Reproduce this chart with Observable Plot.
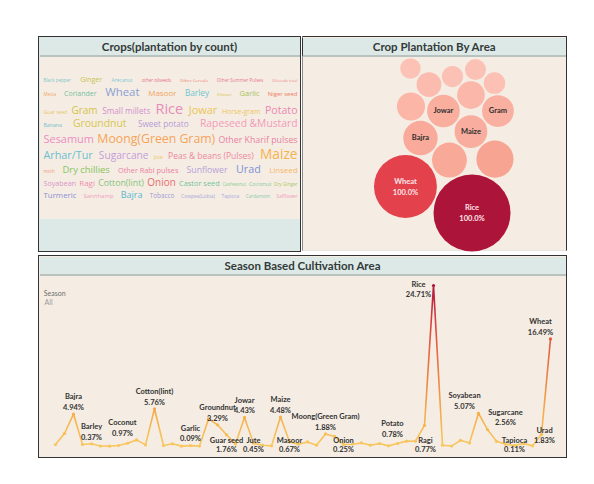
<!DOCTYPE html>
<html>
<head>
<meta charset="utf-8">
<script src="https://cdn.jsdelivr.net/npm/d3@7"></script>
<script src="https://cdn.jsdelivr.net/npm/@observablehq/plot@0.6"></script>
<style>
html,body{margin:0;padding:0;background:#fff;}
#dash{position:relative;width:594px;height:484px;overflow:hidden;font-family:Lato,"Open Sans",sans-serif;}
.box{position:absolute;box-sizing:border-box;}
.hdr{position:absolute;box-sizing:border-box;background:#dde9e6;border-bottom:2px solid #b9c2bf;display:flex;align-items:center;justify-content:center;font:700 11.5px Lato,sans-serif;color:#333a3a;}
.note{position:absolute;font:7px Lato,sans-serif;}
svg{overflow:visible;}
</style>
</head>
<body>
<div id="dash">
  <!-- panel 1 -->
  <div class="box" style="left:38px;top:36px;width:263px;height:216px;border:1.5px solid #333;background:#dde9e6;"></div>
  <div class="box" style="left:39.5px;top:57px;width:260px;height:162px;background:#f5ede3;"></div>
  <div class="hdr" style="left:39.5px;top:37.5px;width:260px;height:19.5px;">Crops(plantation by count)</div>
  <!-- panel 2 -->
  <div class="box" style="left:302px;top:36px;width:265px;height:215px;border-top:1.5px solid #333;border-right:1.5px solid #333;border-left:1px solid #8a8a8a;border-bottom:1px solid #e4e4e4;background:#f5ede3;"></div>
  <div class="hdr" style="left:302px;top:37.5px;width:263.5px;height:19.5px;border-left:1.5px solid #333;">Crop Plantation By Area</div>
  <!-- panel 3 -->
  <div class="box" style="left:38px;top:255px;width:529px;height:203px;border:1.5px solid #333;background:#f5ede3;"></div>
  <div class="hdr" style="left:39.5px;top:256.5px;width:526px;height:19.5px;">Season Based Cultivation Area</div>
  <div class="note" style="left:43.7px;top:288.5px;color:#6d6d6d;">Season</div>
  <div class="note" style="left:44.5px;top:297.5px;color:#9a9a9a;">All</div>
</div>
<script>
// ---------------- DATA ----------------
// Season based cultivation area (% of total area), crops in axis order
const lineCrops = ["Arecanut","Arhar/Tur","Bajra","Banana","Barley","Black pepper","Cardamom","Cashewnut","Castor seed","Coconut",
  "Coriander","Cotton(lint)","Cowpea(Lobia)","Dry chillies","Dry Ginger","Garlic","Ginger","Gram","Groundnut","Guar seed",
  "Horse-gram","Jowar","Jute","Khesari","Linseed","Maize","Masoor","Mesta","moth","Niger seed",
  "Moong(Green Gram)","Oilseeds total","Onion","Other Cereals","Other Kharif pulses","other oilseeds","Other Rabi pulses","Other Summer Pulses","Peas & beans (Pulses)","Potato",
  "Ragi","Rapeseed &Mustard","Rice","Safflower","Sannhamp","Sesamum","Small millets","Soyabean","Sugarcane","Sunflower",
  "Sweet potato","Tapioca","Tobacco","Turmeric","Urad","Wheat"];
const areaPct = [0.25,1.95,4.94,0.25,0.37,0.02,0.01,0.1,0.45,0.97,
  0.2,5.76,0.1,0.37,0.01,0.09,0.02,4.2,3.29,1.76,
  0.35,4.43,0.45,0.15,0.05,4.48,0.67,0.3,0.65,0.15,
  1.88,1.5,0.25,0.3,0.5,0.15,0.4,0.05,0.4,0.78,
  0.77,3.2,24.71,0.15,0.02,0.9,0.5,5.07,2.56,0.75,
  0.3,0.11,0.4,0.05,1.83,16.49];
// which crops carry a label, grouped by where the label sits
const labeledAbove = ["Bajra","Barley","Cotton(lint)","Garlic","Groundnut","Jowar","Maize","Moong(Green Gram)"];
const labeledAboveLeft = ["Coconut","Potato","Soyabean"];
const labeledAboveRight = ["Sugarcane"];
const labeledLow = ["Guar seed","Jute","Masoor","Onion","Tapioca"];
const labeledLowRight = ["Ragi"];
const labeledMid = ["Urad"];
const labeledLeft = ["Rice"];
const labeledEdge = ["Wheat"];

// Word cloud: crops and record counts, grouped in reading rows
const cloudWords = ["Black pepper","Ginger","Arecanut","other oilseeds","Other Cereals","Other Summer Pulses","Oilseeds total",
  "Mesta","Coriander","Wheat","Masoor","Barley","Khesari","Garlic","Niger seed",
  "Guar seed","Gram","Small millets","Rice","Jowar","Horse-gram","Potato",
  "Banana","Groundnut","Sweet potato","Rapeseed &Mustard",
  "Sesamum","Moong(Green Gram)","Other Kharif pulses",
  "Arhar/Tur","Sugarcane","Jute","Peas & beans (Pulses)","Maize",
  "moth","Dry chillies","Other Rabi pulses","Sunflower","Urad","Linseed",
  "Soyabean","Ragi","Cotton(lint)","Onion","Castor seed","Cashewnut","Coconut","Dry Ginger",
  "Turmeric","Sannhamp","Bajra","Tobacco","Cowpea(Lobia)","Tapioca","Cardamom","Safflower"];
const cloudCounts = [909,4599,1619,860,626,1000,200,
  900,4457,10701,5876,6302,484,5167,3038,
  1580,8714,6160,15100,10133,4400,9566,
  1903,9282,6250,9140,
  10050,11978,7011,
  9850,8998,1560,6586,13950,
  880,7863,4883,6870,9708,5734,
  4741,5820,6950,8650,5025,1051,2896,1193,
  5700,3000,7295,3605,1540,1520,1150,1335];
const cloudRows = [
  ["Black pepper","Ginger","Arecanut","other oilseeds","Other Cereals","Other Summer Pulses","Oilseeds total"],
  ["Mesta","Coriander","Wheat","Masoor","Barley","Khesari","Garlic","Niger seed"],
  ["Guar seed","Gram","Small millets","Rice","Jowar","Horse-gram","Potato"],
  ["Banana","Groundnut","Sweet potato","Rapeseed &Mustard"],
  ["Sesamum","Moong(Green Gram)","Other Kharif pulses"],
  ["Arhar/Tur","Sugarcane","Jute","Peas & beans (Pulses)","Maize"],
  ["moth","Dry chillies","Other Rabi pulses","Sunflower","Urad","Linseed"],
  ["Soyabean","Ragi","Cotton(lint)","Onion","Castor seed","Cashewnut","Coconut","Dry Ginger"],
  ["Turmeric","Sannhamp","Bajra","Tobacco","Cowpea(Lobia)","Tapioca","Cardamom","Safflower"]
];
const cloudPalette = ["#7fc6c6","#c9bf4f","#7cc8d6","#e8708a","#ec7a6e","#e9748f","#ee8a8a",
  "#f0a868","#77bfa0","#8a9fd4","#f3a35e","#6cc6d0","#d9c24f","#a9c25a","#ee7c63",
  "#e6c55e","#d4c247","#d28fd0","#e78bb9","#ebc457","#eec35d","#ec86b2",
  "#72c0cf","#d6c550","#b89bd6","#f29abb",
  "#ea8cc2","#f5a45a","#ea7fa3",
  "#6bbfd0","#c59bd9","#eec664","#ee879f","#f6b24c",
  "#f09a7a","#86c45c","#ec7ea5","#b7a0d9","#7d91d7","#f6b769",
  "#d894c8","#ee8db0","#85c37b","#ea6a6e","#74c39c","#8ccf8f","#89c99d","#a9c868",
  "#8c8ed3","#ee9dbe","#58b8d0","#a39ad6","#a8a6da","#a8a6da","#8cc9b0","#f09cc0"];

// Bubble chart: top crops by area
const bubbleCount = 15;
const bubbleNameLabels = ["Gram","Jowar","Bajra","Maize"];
const bubbleFullLabels = ["Rice","Wheat"];

// ---------------- HELPERS ----------------
const dash = document.getElementById("dash");
function mount(el, left, top) {
  el.style.position = "absolute";
  el.style.left = left + "px";
  el.style.top = top + "px";
  el.style.background = "transparent";
  el.style.maxWidth = "none";
  dash.appendChild(el);
}
const table = lineCrops.map((crop, i) => ({crop, pct: areaPct[i]}));
const pctFmt = v => d3.format(".2f")(v) + "%";

// ---------------- WORD CLOUD ----------------
{
  const W = 260, H = 162;
  const ctx = document.createElement("canvas").getContext("2d");
  const fsScale = d3.scaleLinear().domain(d3.extent(cloudCounts)).range([4, 14.5]);
  const countOf = new Map(cloudWords.map((w, i) => [w, cloudCounts[i]]));
  const words = [];
  let baseline = 0, lastMax = 0;
  cloudRows.forEach((row, ri) => {
    const items = row.map(w => {
      const fs = fsScale(countOf.get(w));
      ctx.font = `${fs}px "Open Sans"`;
      return {crop: w, fs, w: ctx.measureText(w).width};
    });
    const maxFs = d3.max(items, d => d.fs);
    baseline += ri === 0 ? maxFs * 0.75 : maxFs + 3;
    lastMax = maxFs;
    const gaps = items.slice(1).map((d, i) => 2.5 + 0.12 * (d.fs + items[i].fs));
    let natural = d3.sum(items, d => d.w) + d3.sum(gaps);
    const avail = W - 6;
    let extra = 0;
    if (natural > 0.85 * avail && items.length > 1) {
      extra = (avail - natural) / (items.length - 1);
      natural = avail;
    }
    let x = (W - natural) / 2;
    items.forEach((d, i) => {
      words.push({...d, x, base: baseline});
      x += d.w + (i < gaps.length ? gaps[i] + extra : 0);
    });
  });
  const blockH = baseline + lastMax * 0.25;
  const shift = (H - blockH) / 2;
  words.forEach(d => d.y = d.base + shift);

  const cloud = Plot.plot({
    width: W, height: H, margin: 0,
    style: {background: "transparent", overflow: "visible"},
    x: {type: "identity", axis: null},
    y: {type: "identity", axis: null},
    color: {type: "ordinal", domain: cloudWords, range: cloudPalette},
    marks: [
      Plot.text(words, {x: "x", y: "y", text: "crop", fontSize: "fs", fill: "crop",
        textAnchor: "start", lineAnchor: "bottom", fontFamily: "Open Sans"})
    ]
  });
  mount(cloud, 39.5, 57);
}

// ---------------- BUBBLES ----------------
{
  const W = 263, H = 194;
  const top = d3.sort(table, d => -d.pct).slice(0, bubbleCount);
  const rScale = d3.scaleSqrt().domain([0, d3.max(top, d => d.pct)]).range([0, 38.5]);
  const items = top.map(d => ({...d, r: rScale(d.pct)}));
  const gap = 1.5;
  // greedy "gravity" packing: each bubble (largest first) takes the free spot
  // nearest to an anchor far below the panel, inside a column; the smaller
  // bubbles stay above and right of the centre of the second-largest one
  function pile(list, x0, x1, ax, ay) {
    const placed = [];
    for (const it of list) {
      let best = null;
      const small = placed.length >= 2;
      const yMax = small ? Math.min(H - it.r, placed[1].y) : H - it.r;
      const passes = small ? [[Math.max(x0 + it.r, placed[1].x + 5), x1 - it.r], [it.r, W - it.r]]
                           : [[x0 + it.r, x1 - it.r], [it.r, W - it.r]];
      for (const [cx0, cx1] of passes) {
        let bestD = Infinity;
        for (let y = yMax; y >= it.r; y -= 0.5) {
          for (let x = cx0; x <= cx1; x += 0.5) {
            const dd = (x - ax) ** 2 + (y - ay) ** 2;
            if (dd >= bestD) continue;
            let ok = true;
            for (const p of placed) {
              const dx = p.x - x, dy = p.y - y, rr = p.r + it.r + gap;
              if (dx * dx + dy * dy < rr * rr) { ok = false; break; }
            }
            if (ok) { bestD = dd; best = {x, y}; }
          }
        }
        if (best) break;
      }
      placed.push({...it, ...(best || {x: W / 2, y: it.r})});
    }
    return placed;
  }
  const packed = pile(items, W / 2 - 60, W / 2 + 80, W / 2 + 38, H + 300);
  const vals = top.map(d => d.pct);
  const bub = Plot.plot({
    width: W, height: H, margin: 0,
    style: {background: "transparent", overflow: "visible"},
    x: {type: "identity", axis: null},
    y: {type: "identity", axis: null},
    r: {type: "linear", domain: [0, 100], range: [0, 100]},
    color: {type: "linear", domain: [d3.min(vals), 6, 16.5, d3.max(vals)],
            range: ["#fcc2b6", "#f8a290", "#e3414b", "#ad1439"]},
    marks: [
      Plot.dot(packed, {x: "x", y: "y", r: "r", fill: "pct", stroke: null}),
      Plot.text(packed.filter(d => bubbleNameLabels.includes(d.crop)), {x: "x", y: "y", text: "crop",
        fill: "#2f2f2f", fontWeight: 700, fontSize: 7.5, fontFamily: "Lato", lineAnchor: "middle"}),
      Plot.text(packed.filter(d => bubbleFullLabels.includes(d.crop)), {x: "x", y: "y", text: "crop",
        dy: -5.3, fill: "#fde6ea", fontWeight: 700, fontSize: 7.5, fontFamily: "Lato", lineAnchor: "middle"}),
      Plot.text(packed.filter(d => bubbleFullLabels.includes(d.crop)), {x: "x", y: "y",
        text: d => d3.format(".1%")(d.pct / d.pct),
        dy: 5.6, fill: "#fde6ea", fontWeight: 700, fontSize: 7.5, fontFamily: "Lato", lineAnchor: "middle"})
    ]
  });
  mount(bub, 302, 57);
}

// ---------------- SEASON LINE ----------------
{
  const W = 526, H = 181;
  const maxV = d3.max(areaPct);
  const lab = {fontFamily: "Lato", fontWeight: 700, fontSize: 7.5, fill: "#333", lineAnchor: "middle"};
  const pick = names => table.filter(d => names.includes(d.crop));
  const pair = (names, opts, dyName, dyValue) => [
    Plot.text(pick(names), {x: "crop", y: "pct", text: "crop", dy: dyName, ...opts, ...lab}),
    Plot.text(pick(names), {x: "crop", y: "pct", text: d => pctFmt(d.pct), dy: dyValue, ...opts, ...lab})
  ];
  const floorPair = (names, opts) => [
    Plot.text(pick(names), {x: "crop", frameAnchor: "bottom", text: "crop", dy: -5.7, ...opts, ...lab}),
    Plot.text(pick(names), {x: "crop", frameAnchor: "bottom", text: d => pctFmt(d.pct), dy: 3.6, ...opts, ...lab})
  ];
  const chart = Plot.plot({
    width: W, height: H,
    marginLeft: 4.5, marginRight: 4.8, marginTop: 9, marginBottom: 11.3,
    style: {background: "transparent", overflow: "visible"},
    x: {type: "point", domain: lineCrops, padding: 0, axis: null},
    y: {domain: [0, maxV], axis: null},
    color: {type: "linear", domain: [0, 5, 16.5, maxV], range: ["#f8c75f", "#f5ae4b", "#e5573f", "#b0173c"]},
    marks: [
      Plot.line(table, {x: "crop", y: "pct", stroke: "#f5b04e", strokeWidth: 1.6}),
      Plot.dot(table, {x: "crop", y: "pct", fill: "pct", r: 1.6, stroke: null}),
      ...pair(labeledAbove, {}, -17.2, -6.6),
      ...pair(labeledAboveLeft, {dx: -14}, -17.2, -6.6),
      ...pair(labeledAboveRight, {dx: 18}, -17.2, -6.6),
      ...floorPair(labeledLow, {}),
      ...floorPair(labeledLowRight, {dx: 10}),
      ...pair(labeledMid, {dx: 3}, -4, 6.7),
      ...pair(labeledLeft, {dx: -15}, -1, 9),
      ...pair(labeledEdge, {dx: -10}, -17.3, -6.7)
    ]
  });
  // vertical gradient for the line, from the chart's own y and colour scales
  const ys = chart.scale("y"), cs = chart.scale("color");
  const NS = "http://www.w3.org/2000/svg";
  const defs = document.createElementNS(NS, "defs");
  const grad = document.createElementNS(NS, "linearGradient");
  grad.setAttribute("id", "seasonGrad");
  grad.setAttribute("gradientUnits", "userSpaceOnUse");
  grad.setAttribute("x1", 0); grad.setAttribute("x2", 0);
  grad.setAttribute("y1", ys.apply(0)); grad.setAttribute("y2", ys.apply(maxV));
  d3.range(0, 1.0001, 0.05).forEach(t => {
    const s = document.createElementNS(NS, "stop");
    s.setAttribute("offset", t);
    s.setAttribute("stop-color", cs.apply(t * maxV));
    grad.appendChild(s);
  });
  defs.appendChild(grad);
  chart.insertBefore(defs, chart.firstChild);
  chart.querySelectorAll('g[aria-label="line"], g[aria-label="line"] path').forEach(el => el.setAttribute("stroke", "url(#seasonGrad)"));
  mount(chart, 39.5, 276);
}
</script>
</body>
</html>
